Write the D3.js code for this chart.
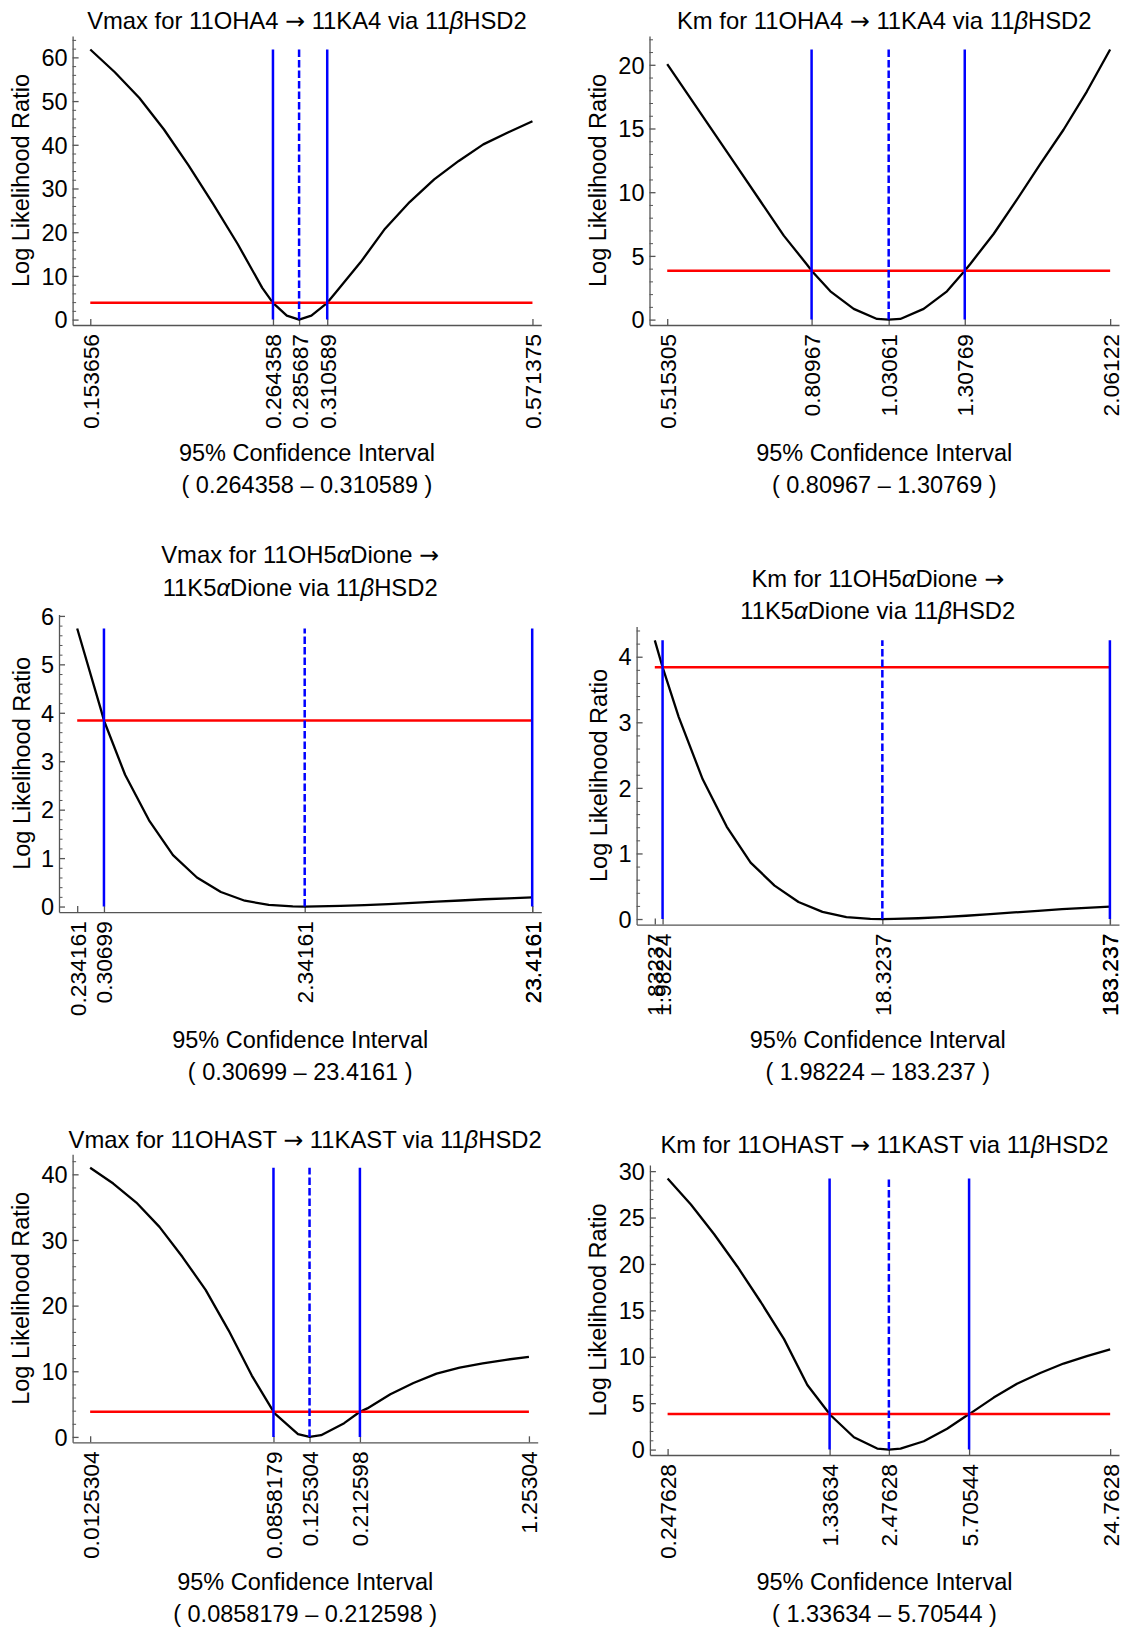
<!DOCTYPE html>
<html>
<head>
<meta charset="utf-8">
<script src="https://cdn.jsdelivr.net/npm/d3@7"></script>
<style>
  html, body { margin: 0; padding: 0; background: #fff; }
  svg { display: block; font-family: "Liberation Sans", Arial, sans-serif; }
</style>
</head>
<body>
<svg id="chart" width="1123" height="1629"></svg>
<script>
// 95% chi-square cut-off (1 d.f.) for the likelihood-ratio profile
const chiSq95 = 3.84;

// Vmax for 11OHA4 -> 11KA4
const vmaxA4X = [0.153656, 0.165286, 0.177797, 0.191254, 0.205730, 0.221301, 0.238051, 0.256069,
  0.264358, 0.275450, 0.285687, 0.296299, 0.310589, 0.318725, 0.342849, 0.368798, 0.396711,
  0.426737, 0.459036, 0.493779, 0.531152, 0.571375];
const vmaxA4Llr = [61.8, 56.6, 50.7, 43.5, 35.3, 26.5, 17.3, 7.25,
  3.84, 0.92, 0, 0.92, 3.84, 6.25, 13.1, 20.8, 26.9,
  32.1, 36.3, 40.1, 42.8, 45.4];
const vmaxA4Ci = [0.264358, 0.285687, 0.310589]; // lower, best fit, upper

// Km for 11OHA4 -> 11KA4
const kmA4X = [0.515305, 0.554309, 0.596265, 0.641394, 0.689943, 0.742161, 0.798336, 0.80967,
  0.858763, 0.923762, 0.993684, 1.03061, 1.068890, 1.149800, 1.236830, 1.30769, 1.330440,
  1.431140, 1.539460, 1.655980, 1.781320, 1.916150, 2.06122];
const kmA4Llr = [20.05, 17.36, 14.67, 11.98, 9.29, 6.59, 4.31, 3.84,
  2.22, 0.84, 0.05, 0, 0.05, 0.84, 2.22, 3.84, 4.37,
  6.72, 9.41, 12.2, 14.9, 17.9, 21.2];
const kmA4Ci = [0.80967, 1.03061, 1.30769];

// Vmax for 11OH5aDione -> 11K5aDione
const vmaxDioneX = [0.234161, 0.298385, 0.30699, 0.380220, 0.484508, 0.617396, 0.786729, 1.002506,
  1.277472, 1.627840, 2.074326, 2.34161, 2.643303, 3.368290, 4.292128, 5.469369, 6.969454,
  8.881011, 11.316834, 14.420758, 18.376024, 23.4161];
const vmaxDioneLlr = [5.74, 4.05, 3.84, 2.72, 1.78, 1.06, 0.60, 0.30,
  0.12, 0.035, 0.005, 0, 0.003, 0.012, 0.028, 0.05, 0.075,
  0.10, 0.125, 0.15, 0.17, 0.19];
const vmaxDioneCi = [0.30699, 2.34161, 23.4161];

// Km for 11OH5aDione -> 11K5aDione
const kmDioneX = [1.83237, 1.98224, 2.33494, 2.97532, 3.79140, 4.83128, 6.15636, 7.84487,
  9.99655, 12.7383, 16.2321, 18.3237, 20.6845, 26.3577, 33.5870, 42.7990, 54.5378,
  69.4961, 88.5571, 112.846, 143.797, 183.237];
const kmDioneLlr = [4.25, 3.84, 3.08, 2.13, 1.41, 0.86, 0.51, 0.26,
  0.11, 0.03, 0.003, 0, 0.003, 0.012, 0.028, 0.05, 0.075,
  0.10, 0.125, 0.15, 0.17, 0.19];
const kmDioneCi = [1.98224, 18.3237, 183.237];

// Vmax for 11OHAST -> 11KAST
const vmaxAstX = [0.0125304, 0.0159671, 0.0203464, 0.0259269, 0.0330380, 0.0420994, 0.0536461,
  0.0683599, 0.0858179, 0.0871088, 0.111001, 0.125304, 0.141448, 0.180244, 0.212598,
  0.229680, 0.292675, 0.372949, 0.475239, 0.605586, 0.771683, 0.983336, 1.25304];
const vmaxAstLlr = [41.0, 38.6, 35.7, 32.0, 27.4, 22.4, 16.2,
  9.35, 3.84, 3.55, 0.41, 0, 0.26, 2.09, 3.84,
  4.34, 6.49, 8.22, 9.65, 10.55, 11.2, 11.75, 12.2];
const vmaxAstCi = [0.0858179, 0.125304, 0.212598];

// Km for 11OHAST -> 11KAST
const kmAstX = [0.247628, 0.315544, 0.402089, 0.512373, 0.652903, 0.831976, 1.06016, 1.33634,
  1.35094, 1.72146, 2.19362, 2.47628, 2.79532, 3.56198, 4.53897, 5.70544, 5.78390,
  7.37027, 9.39176, 11.9677, 15.2501, 19.4329, 24.7628];
const kmAstLlr = [29.2, 26.4, 23.2, 19.7, 15.9, 11.9, 6.95, 3.84,
  3.7, 1.33, 0.11, 0, 0.11, 0.9, 2.24, 3.84, 3.9,
  5.6, 7.1, 8.25, 9.27, 10.06, 10.8];
const kmAstCi = [1.33634, 2.47628, 5.70544];

// Panel titles (one entry per line)
const titles = [
  ["Vmax for 11OHA4 \u2192 11KA4 via 11\u03B2HSD2"],
  ["Km for 11OHA4 \u2192 11KA4 via 11\u03B2HSD2"],
  ["Vmax for 11OH5\u03B1Dione \u2192", "11K5\u03B1Dione via 11\u03B2HSD2"],
  ["Km for 11OH5\u03B1Dione \u2192", "11K5\u03B1Dione via 11\u03B2HSD2"],
  ["Vmax for 11OHAST \u2192 11KAST via 11\u03B2HSD2"],
  ["Km for 11OHAST \u2192 11KAST via 11\u03B2HSD2"]
];

// Major y tick spacing per panel (minor ticks every fifth of it)
const yTickSteps = [10, 5, 1, 1, 10, 5];

const yAxisTitle = "Log Likelihood Ratio";
const xAxisTitle = "95% Confidence Interval";

// ---- layout of the 3 x 2 grid (pixels) ----
const layout = [
  { left: 72.6, right: 541.3, top: 36, bottom: 325, titleY: [29], yLabelX: 20.75, xLabelY: [461, 493] },
  { left: 649.5, right: 1119, top: 36, bottom: 325, titleY: [29], yLabelX: 598, xLabelY: [461, 493] },
  { left: 59, right: 541.3, top: 614.6, bottom: 912.1, titleY: [563, 596], yLabelX: 21.5, xLabelY: [1048, 1080] },
  { left: 636.6, right: 1119, top: 626.4, bottom: 924.6, titleY: [587, 619.3], yLabelX: 598.6, xLabelY: [1048, 1080] },
  { left: 72.6, right: 537.7, top: 1154.3, bottom: 1442.3, titleY: [1148.3], yLabelX: 20.75, xLabelY: [1590, 1622] },
  { left: 649.9, right: 1119, top: 1165, bottom: 1455, titleY: [1153.3], yLabelX: 598, xLabelY: [1590, 1622] }
];

const panels = [
  { x: vmaxA4X, y: vmaxA4Llr, ci: vmaxA4Ci },
  { x: kmA4X, y: kmA4Llr, ci: kmA4Ci },
  { x: vmaxDioneX, y: vmaxDioneLlr, ci: vmaxDioneCi },
  { x: kmDioneX, y: kmDioneLlr, ci: kmDioneCi },
  { x: vmaxAstX, y: vmaxAstLlr, ci: vmaxAstCi },
  { x: kmAstX, y: kmAstLlr, ci: kmAstCi }
].map((p, i) => Object.assign(p, { title: titles[i], yStep: yTickSteps[i], box: layout[i] }));

const TITLE_SIZE = 23.8;
const TEXT_SIZE = 23.5;
const TICK_SIZE = 22.8;
const YTICK_SIZE = 23.5;
const AXIS_COLOR = "#555";
const fmt6 = d3.format(".6");

const svg = d3.select("#chart");

// Writes a string, setting Greek letters in italics and the arrow in a font that draws it full size
function richText(sel, str) {
  str.split(/([\u03B1\u03B2\u2192])/).filter(s => s.length).forEach(part => {
    const t = sel.append("tspan").text(part);
    if (/[\u03B1\u03B2]/.test(part)) t.attr("font-style", "italic");
    if (part === "\u2192") t.attr("font-family", "DejaVu Sans");
  });
}

function drawPanel(p) {
  const b = p.box;
  const g = svg.append("g");

  const xmin = d3.min(p.x), xmax = d3.max(p.x);
  const span = Math.log(xmax / xmin);
  const x = d3.scaleLog()
    .domain([xmin * Math.exp(-0.04 * span), xmax * Math.exp(0.02 * span)])
    .range([b.left, b.right]);

  const ymax = d3.max(p.y);
  const y = d3.scaleLinear()
    .domain([-0.02 * ymax, 1.05 * ymax])
    .range([b.bottom, b.top]);

  const [lo, hi] = y.domain();
  const step = p.yStep, minorStep = step / 5;
  const majors = d3.range(0, hi + 1e-9, step);
  const minors = d3.range(Math.ceil(lo / minorStep), Math.floor(hi / minorStep) + 1)
    .map(k => k * minorStep)
    .filter(v => Math.abs(v / step - Math.round(v / step)) > 1e-6);

  // minor y ticks
  g.append("g")
    .attr("transform", `translate(${b.left},0)`)
    .call(d3.axisLeft(y).tickValues(minors).tickSize(-3.5).tickFormat(""))
    .call(s => s.select(".domain").remove())
    .attr("color", AXIS_COLOR);

  // major y ticks with labels
  const yAxis = g.append("g")
    .attr("transform", `translate(${b.left},0)`)
    .call(d3.axisLeft(y).tickValues(majors).tickSize(-6).tickSizeOuter(0)
      .tickPadding(5).tickFormat(d3.format("~g")))
    .attr("color", AXIS_COLOR);
  yAxis.selectAll("text")
    .attr("fill", "#000")
    .attr("font-size", YTICK_SIZE)
    .attr("font-family", "Liberation Sans, Arial, sans-serif")
    .attr("dy", "0.35em");
  yAxis.selectAll("line, path").attr("stroke-width", 1.3);

  // x axis: ticks at range ends, CI bounds and best fit
  const xTicks = [xmin, p.ci[0], p.ci[1], p.ci[2], xmax];
  const xAxis = g.append("g")
    .attr("transform", `translate(0,${b.bottom})`)
    .call(d3.axisBottom(x).tickValues(xTicks).tickSize(-6).tickSizeOuter(0).tickFormat(fmt6))
    .attr("color", AXIS_COLOR);
  xAxis.selectAll("text")
    .attr("fill", "#000")
    .attr("font-size", TICK_SIZE)
    .attr("font-family", "Liberation Sans, Arial, sans-serif")
    .attr("transform", "rotate(-90)")
    .attr("text-anchor", "end")
    .attr("x", -9)
    .attr("y", 0)
    .attr("dy", "0.35em");
  xAxis.selectAll("line, path").attr("stroke-width", 1.3);

  // likelihood-ratio profile
  const pts = d3.zip(p.x, p.y);
  g.append("path")
    .datum(pts)
    .attr("fill", "none")
    .attr("stroke", "#000")
    .attr("stroke-width", 2.3)
    .attr("stroke-linejoin", "round")
    .attr("d", d3.line().x(d => x(d[0])).y(d => y(d[1])));

  // chi-square threshold
  g.append("line")
    .attr("x1", x(xmin)).attr("x2", x(xmax))
    .attr("y1", y(chiSq95)).attr("y2", y(chiSq95))
    .attr("stroke", "#ff0000")
    .attr("stroke-width", 2.5);

  // confidence bounds
  g.selectAll("line.bound")
    .data([p.ci[0], p.ci[2]])
    .join("line")
    .attr("class", "bound")
    .attr("x1", d => x(d)).attr("x2", d => x(d))
    .attr("y1", y(0)).attr("y2", y(ymax))
    .attr("stroke", "#0000ff")
    .attr("stroke-width", 2.5);

  // best fit
  g.append("line")
    .attr("x1", x(p.ci[1])).attr("x2", x(p.ci[1]))
    .attr("y1", y(0)).attr("y2", y(ymax))
    .attr("stroke", "#0000ff")
    .attr("stroke-width", 2.5)
    .attr("stroke-dasharray", "7.5,3");

  const cx = (b.left + b.right) / 2;

  // title
  p.title.forEach((line, i) => {
    const t = g.append("text")
      .attr("x", cx).attr("y", b.titleY[i])
      .attr("text-anchor", "middle")
      .attr("font-size", TITLE_SIZE)
      .attr("fill", "#000");
    richText(t, line);
  });

  // y axis title
  g.append("text")
    .attr("transform", `translate(${b.yLabelX},${(b.top + b.bottom) / 2}) rotate(-90)`)
    .attr("text-anchor", "middle")
    .attr("dominant-baseline", "central")
    .attr("font-size", TEXT_SIZE)
    .attr("fill", "#000")
    .text(yAxisTitle);

  // x axis title and interval
  [xAxisTitle, `( ${fmt6(p.ci[0])} \u2013 ${fmt6(p.ci[2])} )`].forEach((s, i) => {
    g.append("text")
      .attr("x", cx).attr("y", b.xLabelY[i])
      .attr("text-anchor", "middle")
      .attr("font-size", TEXT_SIZE)
      .attr("fill", "#000")
      .text(s);
  });
}

panels.forEach(drawPanel);
</script>
</body>
</html>
